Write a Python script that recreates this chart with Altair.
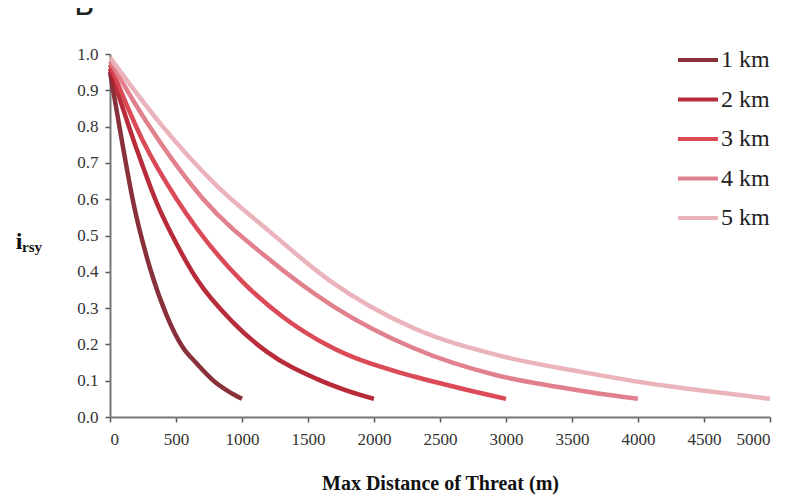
import altair as alt
import pandas as pd

# Readings from the reference (distance in m, index value)
series_names = ["1 km", "2 km", "3 km", "4 km", "5 km"]
d_1km = [0, 100, 177, 303, 429, 555, 650, 800, 900, 1000]
y_1km = [0.95, 0.74, 0.59, 0.41, 0.28, 0.19, 0.15, 0.095, 0.07, 0.05]
d_2km = [0, 200, 354, 500, 657, 934, 1187, 1566, 1800, 2000]
y_2km = [0.96, 0.74, 0.59, 0.48, 0.38, 0.26, 0.18, 0.105, 0.072, 0.05]
d_3km = [0, 250, 505, 657, 1010, 1313, 1667, 2197, 2424, 2700, 3000]
y_3km = [0.97, 0.76, 0.60, 0.52, 0.37, 0.275, 0.194, 0.122, 0.10, 0.075, 0.05]
d_4km = [0, 300, 707, 1187, 1692, 2298, 2929, 3409, 3700, 4000]
y_4km = [0.98, 0.80, 0.60, 0.44, 0.305, 0.19, 0.115, 0.082, 0.065, 0.05]
d_5km = [0, 400, 800, 1212, 1667, 2298, 2929, 3561, 4167, 4600, 5000]
y_5km = [0.99, 0.80, 0.64, 0.51, 0.375, 0.245, 0.171, 0.125, 0.088, 0.068, 0.05]

colors = ["#82262f", "#b3202f", "#d8404e", "#e07a88", "#eab0b8"]
x_ticks = [0, 500, 1000, 1500, 2000, 2500, 3000, 3500, 4000, 4500, 5000]
y_ticks = [0.0, 0.1, 0.2, 0.3, 0.4, 0.5, 0.6, 0.7, 0.8, 0.9, 1.0]

rows = []
for name, ds, ys in zip(series_names,
                        [d_1km, d_2km, d_3km, d_4km, d_5km],
                        [y_1km, y_2km, y_3km, y_4km, y_5km]):
    for d, y in zip(ds, ys):
        rows.append({"series": name, "dist": d, "val": y})
df = pd.DataFrame(rows)

serif = "Liberation Serif"

lines = alt.Chart(df).mark_line(strokeWidth=4.5, interpolate="monotone", opacity=0.95).encode(
    x=alt.X("dist:Q", scale=alt.Scale(domain=[0, 5000], nice=False),
            axis=alt.Axis(values=x_ticks, format="d", title="Max Distance of Threat (m)",
                          titleFont=serif, titleFontSize=20, titleFontWeight="bold",
                          titleColor="#111", titlePadding=26)),
    y=alt.Y("val:Q", scale=alt.Scale(domain=[0, 1], nice=False),
            axis=alt.Axis(values=y_ticks, format=".1f", title=None)),
    color=alt.Color("series:N", scale=alt.Scale(domain=series_names, range=colors),
                    legend=alt.Legend(title=None, orient="none", legendX=566, legendY=-16,
                                      symbolType="stroke", symbolSize=1600,
                                      symbolStrokeWidth=4, rowPadding=5.5,
                                      labelFont=serif, labelFontSize=24, labelColor="#222",
                                      labelOffset=1)),
    order="dist:Q",
)

ylab_i = alt.Chart(pd.DataFrame({"t": ["i"]})).mark_text(
    font=serif, fontSize=24, fontWeight="bold", align="center", baseline="alphabetic", color="#111"
).encode(x=alt.value(-91), y=alt.value(195), text="t:N")

ylab_sub = alt.Chart(pd.DataFrame({"t": ["rsy"]})).mark_text(
    font=serif, fontSize=15, fontWeight="bold", align="left", baseline="alphabetic", color="#111"
).encode(x=alt.value(-88), y=alt.value(198), text="t:N")

panel_b = alt.Chart(pd.DataFrame({"t": ["B"]})).mark_text(
    font="DejaVu Sans", fontSize=30, align="left", baseline="alphabetic", color="#222"
).encode(x=alt.value(-36), y=alt.value(-39), text="t:N")

chart = alt.layer(lines, ylab_i, ylab_sub, panel_b).properties(
    width=660, height=363,
    autosize=alt.AutoSizeParams(type="none"),
    padding={"left": 102, "top": 46, "right": 28, "bottom": 78},
).configure_view(stroke=None).configure_axis(
    grid=False, labelFont=serif, labelFontSize=17, labelColor="#333",
    domainColor="#777", domainWidth=2, tickColor="#555", tickWidth=1.5, tickSize=5,
    labelPadding=7,
).configure_axisX(labelPadding=9)

chart.save("out.html", embed_options={"renderer": "svg", "actions": False})
